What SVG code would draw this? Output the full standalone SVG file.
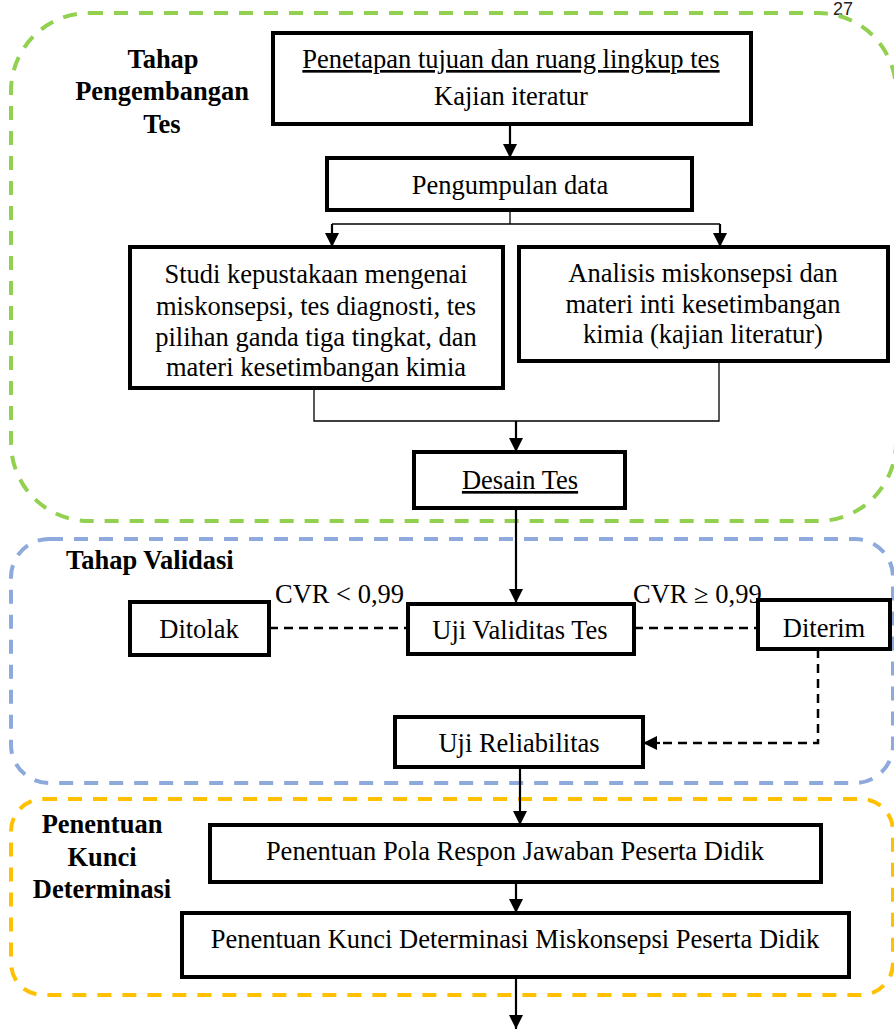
<svg xmlns="http://www.w3.org/2000/svg" width="894" height="1030" viewBox="0 0 894 1030">
<defs>
<style>
.grp{fill:none;stroke-width:4;stroke-dasharray:14 11}
.box{fill:#fff;stroke:#000;stroke-width:4}
.t{font-family:"Liberation Serif","Times New Roman",serif;font-size:26.5px;fill:#000}
.c{text-anchor:middle}
.b{font-family:"Liberation Serif","Times New Roman",serif;font-size:26.5px;font-weight:bold;fill:#000}
.thin{fill:none;stroke:#000;stroke-width:1.3}
.arr{fill:none;stroke:#000;stroke-width:2.2}
.dash{fill:none;stroke:#000;stroke-width:2.5;stroke-dasharray:9 6}
</style>
<marker id="ah" markerUnits="userSpaceOnUse" markerWidth="14" markerHeight="14" viewBox="0 0 14 14" refX="14" refY="7" orient="auto">
<path d="M0,0 L14,7 L0,14 Z" fill="#000"/>
</marker>
</defs>
<rect width="894" height="1030" fill="#fff"/>
<text x="833" y="15" font-family="Liberation Sans, Arial, sans-serif" font-size="18" fill="#222">27</text>

<g id="groups">
<rect id="grp-pengembangan" class="grp" x="11" y="13" width="885" height="508" rx="78" ry="78" stroke="#92D050"/>
<rect id="grp-validasi" class="grp" x="11" y="539" width="882" height="244" rx="38" ry="38" stroke="#8EA9DB"/>
<rect id="grp-kunci" class="grp" x="11" y="799" width="882" height="196" rx="32" ry="32" stroke="#FFC000"/>
<text class="b c" x="163" y="68">Tahap</text>
<text class="b c" x="162" y="100">Pengembangan</text>
<text class="b c" x="162" y="133">Tes</text>
<text class="b" x="66" y="569">Tahap Validasi</text>
<text class="b c" x="102" y="833">Penentuan</text>
<text class="b c" x="102" y="866">Kunci</text>
<text class="b c" x="102" y="898">Determinasi</text>
</g>

<g id="connectors">
<line class="arr" x1="510" y1="125" x2="510" y2="158" marker-end="url(#ah)"/>
<polyline class="thin" points="510,210 510,224"/>
<line class="thin" x1="332" y1="224" x2="720" y2="224"/>
<line class="arr" x1="332" y1="224" x2="332" y2="247" marker-end="url(#ah)"/>
<line class="arr" x1="720" y1="224" x2="720" y2="247" marker-end="url(#ah)"/>
<polyline class="thin" points="314,388 314,421 719,421 719,361"/>
<line class="arr" x1="516" y1="421" x2="516" y2="452" marker-end="url(#ah)"/>
<line class="arr" x1="516" y1="508" x2="516" y2="603" marker-end="url(#ah)"/>
<line class="dash" x1="269" y1="628" x2="408" y2="628"/>
<line class="dash" x1="634" y1="628" x2="758" y2="628"/>
<polyline class="dash" points="818,649 818,743 658,743"/>
<line class="arr" x1="660" y1="743" x2="643" y2="743" marker-end="url(#ah)"/>
<line class="arr" x1="520" y1="767" x2="520" y2="825" marker-end="url(#ah)"/>
<line class="arr" x1="516" y1="882" x2="516" y2="913" marker-end="url(#ah)"/>
<line class="arr" x1="516" y1="977" x2="516" y2="1029" marker-end="url(#ah)"/>
<text class="t" x="275" y="603" font-size="24.5">CVR &lt; 0,99</text>
<text class="t" x="633" y="603" font-size="24.5">CVR ≥ 0,99</text>
</g>

<g id="n-penetapan">
<rect class="box" x="273" y="33" width="478" height="91"/>
<text class="t c" x="511" y="68" text-decoration="underline">Penetapan tujuan dan ruang lingkup tes</text>
<text class="t c" x="511" y="105">Kajian iteratur</text>
</g>
<g id="n-pengumpulan">
<rect class="box" x="327" y="158" width="365" height="52"/>
<text class="t c" x="510" y="194">Pengumpulan data</text>
</g>
<g id="n-studi">
<rect class="box" x="130" y="247" width="373" height="141"/>
<text class="t c" x="316" y="283">Studi kepustakaan mengenai</text>
<text class="t c" x="316" y="315">miskonsepsi, tes diagnosti, tes</text>
<text class="t c" x="316" y="346">pilihan ganda tiga tingkat, dan</text>
<text class="t c" x="316" y="376">materi kesetimbangan kimia</text>
</g>
<g id="n-analisis">
<rect class="box" x="519" y="247" width="369" height="114"/>
<text class="t c" x="703" y="282">Analisis miskonsepsi dan</text>
<text class="t c" x="703" y="313">materi inti kesetimbangan</text>
<text class="t c" x="703" y="343">kimia (kajian literatur)</text>
</g>
<g id="n-desain">
<rect class="box" x="414" y="452" width="211" height="56"/>
<text class="t c" x="520" y="489" text-decoration="underline">Desain Tes</text>
</g>
<g id="n-ditolak">
<rect class="box" x="130" y="602" width="139" height="53"/>
<text class="t c" x="199" y="638">Ditolak</text>
</g>
<g id="n-validitas">
<rect class="box" x="408" y="604" width="226" height="50"/>
<text class="t c" x="520" y="639">Uji Validitas Tes</text>
</g>
<g id="n-diterim">
<rect class="box" x="758" y="600" width="132" height="49"/>
<text class="t c" x="824" y="637">Diterim</text>
</g>
<g id="n-reliabilitas">
<rect class="box" x="395" y="717" width="248" height="50"/>
<text class="t c" x="519" y="752">Uji Reliabilitas</text>
</g>
<g id="n-pola">
<rect class="box" x="210" y="825" width="611" height="57"/>
<text class="t c" x="515" y="860">Penentuan Pola Respon Jawaban Peserta Didik</text>
</g>
<g id="n-kunci">
<rect class="box" x="182" y="913" width="667" height="64"/>
<text class="t c" x="515" y="948">Penentuan Kunci Determinasi Miskonsepsi Peserta Didik</text>
</g>
</svg>
